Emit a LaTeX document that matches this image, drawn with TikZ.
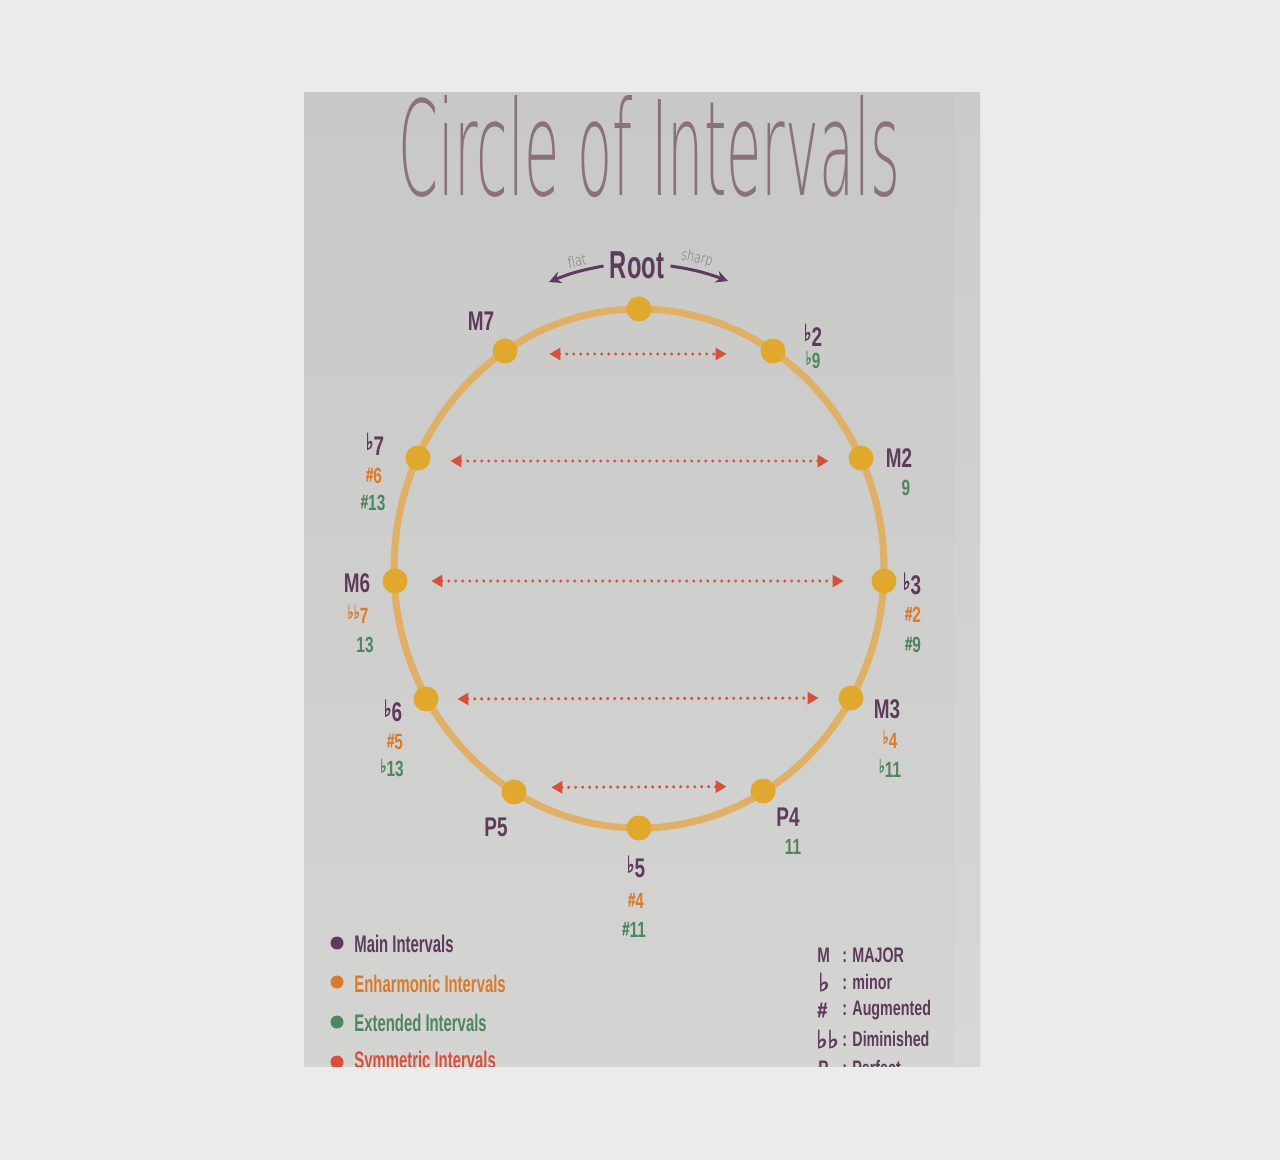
\documentclass[tikz,border=0pt]{standalone}
\usepackage{fontspec}
\setmainfont{Liberation Sans}
\newfontfamily\thinf{DejaVu Sans ExtraLight}
\newfontfamily\symf{DejaVu Sans}[FakeBold=2.5]
\newfontfamily\hashf{Liberation Sans}[FakeBold=1.5]
\usetikzlibrary{arrows.meta}
\definecolor{outerbg}{HTML}{EBEBEB}
\definecolor{ptop}{HTML}{C8C8C6}
\definecolor{pbot}{HTML}{D4D4D2}
\definecolor{ctitle}{HTML}{8A7277}
\definecolor{cmain}{HTML}{5E3B5C}
\definecolor{cenh}{HTML}{DB7A2C}
\definecolor{cext}{HTML}{4F8560}
\definecolor{csym}{HTML}{D7503C}
\definecolor{cring}{HTML}{DFB066}
\definecolor{cdot}{HTML}{E0A92E}
\definecolor{csmall}{HTML}{7A6A78}
\newcommand{\cnd}[2][0.7]{\scalebox{#1}[1]{#2}}
\newcommand{\fl}{\raisebox{0.2em}{\scalebox{0.85}{\symf\bfseries ♭}}}
\newcommand{\shp}{\raisebox{0.12em}{\scalebox{0.88}{\hashf\bfseries \#}}}
\newcommand{\bigfl}{{\symf\bfseries ♭}}
\tikzset{
  ivdot/.style={circle, fill=cdot, minimum size=12.5pt, inner sep=0pt},
  mainlab/.style={text=cmain, font=\fontsize{13.5}{14}\selectfont\bfseries, inner sep=0pt},
  enhlab/.style={text=cenh, font=\fontsize{11}{12}\selectfont\bfseries, inner sep=0pt},
  extlab/.style={text=cext, font=\fontsize{11}{12}\selectfont\bfseries, inner sep=0pt},
  symarrow/.style={draw=csym, line width=1.7pt, dash pattern=on 0pt off 3.5pt, line cap=round,
    arrows={Triangle[length=5.5pt,width=6pt]-Triangle[length=5.5pt,width=6pt]}},
  rootarrow/.style={draw=cmain, line width=1.5pt, -{Stealth[length=6pt,width=6pt]}},
  smalltxt/.style={text=csmall, font=\fontsize{7.5}{8}\selectfont\thinf, inner sep=0pt},
  legdot/.style={circle, minimum size=6.5pt, inner sep=0pt},
  legtxt/.style={font=\fontsize{12}{13}\selectfont\bfseries, inner sep=0pt, anchor=west},
  keytxt/.style={text=cmain, font=\fontsize{10.5}{11}\selectfont\bfseries, inner sep=0pt, anchor=west},
}
\begin{document}
\begin{tikzpicture}[x=0.5pt, y=-0.5pt]
\useasboundingbox (0,0) rectangle (1280,1160);
\fill[outerbg] (0,0) rectangle (1280,1160);
\shade[top color=ptop, bottom color=pbot] (304,93) rectangle (980,1066);
\fill[white, opacity=0.07] (954,93) rectangle (980,1066);
\begin{scope}
\clip (304,93) rectangle (980,1066);
% title
\node[anchor=base west, inner sep=0pt, text=ctitle] (title) at (398,196)
  {\resizebox{251pt}{50pt}{\thinf Circle of Intervals}};
% ring
\draw[cring, line width=3.5pt] (639,568.5) ellipse [x radius=122.5pt, y radius=129.75pt];
% interval dots
\node[ivdot] (dRoot) at (639,309) {};
\node[ivdot] (dBtwo) at (773,351) {};
\node[ivdot] (dMtwo) at (861,458) {};
\node[ivdot] (dBthree) at (884,581) {};
\node[ivdot] (dMthree) at (851,698) {};
\node[ivdot] (dPfour) at (763,791) {};
\node[ivdot] (dBfive) at (639,828) {};
\node[ivdot] (dPfive) at (514,792) {};
\node[ivdot] (dBsix) at (426,699) {};
\node[ivdot] (dMsix) at (395,581) {};
\node[ivdot] (dBseven) at (418,458) {};
\node[ivdot] (dMseven) at (505,351) {};
% symmetric arrows
\draw[symarrow, shorten <=15.75pt, shorten >=16.75pt] ([yshift=-1.5pt]dMseven.east) -- ([yshift=-1.5pt]dBtwo.west);
\draw[symarrow, shorten <=9.75pt, shorten >=9.75pt] ([yshift=-1.5pt]dBseven.east) -- ([yshift=-1.5pt]dMtwo.west);
\draw[symarrow, shorten <=11.75pt, shorten >=13.75pt] (dMsix.east) -- (dBthree.west);
\draw[symarrow, shorten <=9.25pt, shorten >=9.75pt] (dBsix.east) -- (dMthree.west);
\draw[symarrow, shorten <=12.25pt, shorten >=11.75pt] ([yshift=2.25pt]dPfive.east) -- ([yshift=2.25pt]dPfour.west);
% root
\node[text=cmain, font=\fontsize{19.5}{20}\selectfont\bfseries, inner sep=0pt] (rootlbl) at (637,265) {\cnd[0.61]{Root}};
\coordinate (flatend) at (549,282);
\coordinate (sharpend) at (728,281);
\draw[rootarrow] ([xshift=-3pt,yshift=-0.5pt]rootlbl.west) to[bend right=6] (flatend);
\draw[rootarrow] ([xshift=3pt,yshift=-0.5pt]rootlbl.east) to[bend left=6] (sharpend);
\node[smalltxt, rotate=12] (flatlbl) at (577,261) {\cnd[0.75]{flat}};
\node[smalltxt, rotate=-12] (sharplbl) at (697,259) {\cnd[0.75]{sharp}};
% main labels
\node[mainlab] (lMseven) at (481,321) {\cnd{M7}};
\node[mainlab] (lBtwo) at (813,335) {\cnd{\fl2}};
\node[mainlab] (lMtwo) at (899,458) {\cnd{M2}};
\node[mainlab] (lBthree) at (912,584) {\cnd{\fl3}};
\node[mainlab] (lMthree) at (887,709) {\cnd{M3}};
\node[mainlab] (lPfour) at (788,817) {\cnd{P4}};
\node[mainlab] (lBfive) at (636,867) {\cnd{\fl5}};
\node[mainlab] (lPfive) at (496,827) {\cnd{P5}};
\node[mainlab] (lBsix) at (393,711) {\cnd{\fl6}};
\node[mainlab] (lMsix) at (357,583) {\cnd{M6}};
\node[mainlab] (lBseven) at (375,444) {\cnd{\fl7}};
% enharmonic labels
\node[enhlab] (eSsix) at (374,476) {\cnd{\shp6}};
\node[enhlab] (eBBseven) at (358,614) {\cnd{\fl\fl7}};
\node[enhlab] (eSfive) at (395,742) {\cnd{\shp5}};
\node[enhlab] (eBfour) at (890,739) {\cnd{\fl4}};
\node[enhlab] (eStwo) at (913,615) {\cnd{\shp2}};
\node[enhlab] (eSfour) at (636,901) {\cnd{\shp4}};
% extended labels
\node[extlab] (xBnine) at (813,360) {\cnd{\fl9}};
\node[extlab] (xNine) at (906,488) {\cnd{9}};
\node[extlab] (xSnine) at (913,645) {\cnd{\shp9}};
\node[extlab] (xBeleven) at (890,768) {\cnd{\fl11}};
\node[extlab] (xEleven) at (793,847) {\cnd{11}};
\node[extlab] (xSeleven) at (634,930) {\cnd{\shp11}};
\node[extlab] (xBthirteen) at (392,768) {\cnd{\fl13}};
\node[extlab] (xThirteen) at (365,645) {\cnd{13}};
\node[extlab] (xSthirteen) at (373,503) {\cnd{\shp13}};
% legend left
\node[legdot, fill=cmain] (gdA) at (337,943) {};
\node[legdot, fill=cenh] (gdB) at (337,982) {};
\node[legdot, fill=cext] (gdC) at (337,1022) {};
\node[legdot, fill=csym] (gdD) at (337,1062) {};
\node[legtxt, text=cmain] (gtA) at (354,944) {\cnd[0.62]{Main Intervals}};
\node[legtxt, text=cenh] (gtB) at (354,984) {\cnd[0.62]{Enharmonic Intervals}};
\node[legtxt, text=cext] (gtC) at (354,1023) {\cnd[0.62]{Extended Intervals}};
\node[legtxt, text=csym] (gtD) at (354,1062) {\cnd[0.62]{Symmetric Intervals}};
% legend right
\node[keytxt] (kA) at (817,955) {\cnd[0.72]{M}};
\node[keytxt] (kB) at (818,982) {\cnd[0.95]{\fontsize{12.5}{12}\selectfont\bigfl}};
\node[keytxt] (kC) at (817,1010) {\cnd[0.85]{\hashf\bfseries\#}};
\node[keytxt] (kD) at (816,1039) {\cnd[0.95]{\fontsize{12.5}{12}\selectfont\bigfl\bigfl}};
\node[keytxt] (kE) at (818,1068) {\cnd[0.72]{P}};
\node[keytxt] (vA) at (842,955) {\cnd[0.68]{: MAJOR}};
\node[keytxt] (vB) at (842,982) {\cnd[0.68]{: minor}};
\node[keytxt] (vC) at (842,1010) {\cnd[0.68]{: Augmented}};
\node[keytxt] (vD) at (842,1039) {\cnd[0.68]{: Diminished}};
\node[keytxt] (vE) at (842,1068) {\cnd[0.68]{: Perfect}};
\end{scope}
\end{tikzpicture}
\end{document}
